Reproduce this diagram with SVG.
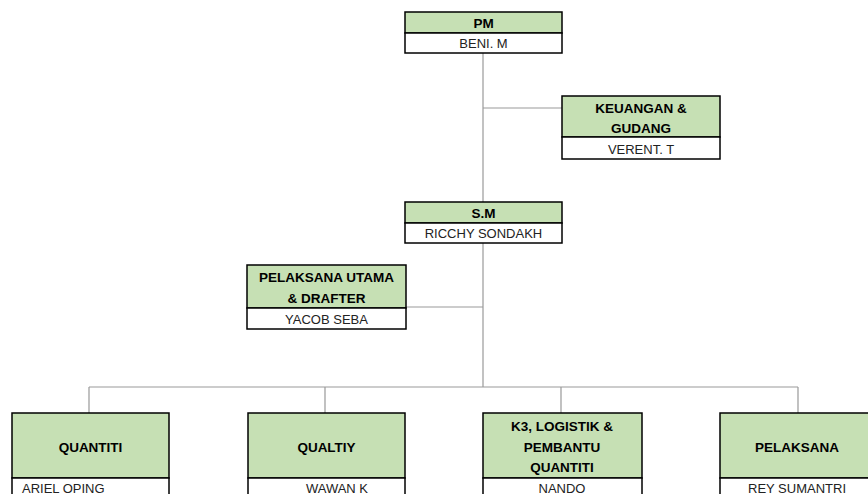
<svg xmlns="http://www.w3.org/2000/svg" width="868" height="494" viewBox="0 0 868 494">
<style>
.hd{fill:#c6e0b4;stroke:#000;stroke-width:1.5}
.nm{fill:#fff;stroke:#000;stroke-width:1.5}
.t{font-family:"Liberation Sans",Arial,sans-serif;font-size:13.5px;font-weight:bold;fill:#000;text-anchor:middle}
.n{font-family:"Liberation Sans",Arial,sans-serif;font-size:13px;fill:#222;text-anchor:middle}
.c{stroke:#999;stroke-width:1.2;fill:none}
</style>
<rect width="868" height="494" fill="#fff"/>
<g id="connectors">
<path class="c" d="M483 53V387"/>
<path class="c" d="M483 108H562"/>
<path class="c" d="M406 307H483"/>
<path class="c" d="M89 387H798"/>
<path class="c" d="M89 387V413M325 387V413M561 387V413M798 387V413"/>
</g>
<g id="pm">
<rect class="hd" x="405" y="12" width="157" height="21"/>
<rect class="nm" x="405" y="33" width="157" height="20"/>
<text class="t" x="483.5" y="27.5">PM</text>
<text class="n" x="483.5" y="48">BENI. M</text>
</g>
<g id="keuangan">
<rect class="hd" x="562" y="96" width="158" height="41"/>
<rect class="nm" x="562" y="137" width="158" height="22"/>
<text class="t" x="641" y="113">KEUANGAN &amp;</text>
<text class="t" x="641" y="133">GUDANG</text>
<text class="n" x="641" y="153.5">VERENT. T</text>
</g>
<g id="sm">
<rect class="hd" x="405" y="202" width="157" height="21"/>
<rect class="nm" x="405" y="223" width="157" height="20"/>
<text class="t" x="483.5" y="217.5">S.M</text>
<text class="n" x="483.5" y="238">RICCHY SONDAKH</text>
</g>
<g id="pelaksana-utama">
<rect class="hd" x="247" y="265" width="159" height="43"/>
<rect class="nm" x="247" y="308" width="159" height="21"/>
<text class="t" x="326.5" y="282">PELAKSANA UTAMA</text>
<text class="t" x="326.5" y="303">&amp; DRAFTER</text>
<text class="n" x="326.5" y="323.5">YACOB SEBA</text>
</g>
<g id="quantiti">
<rect class="hd" x="12" y="413" width="157" height="65"/>
<rect class="nm" x="12" y="478" width="157" height="22"/>
<text class="t" x="90.5" y="452">QUANTITI</text>
<text class="n" x="22" y="492.5" style="text-anchor:start">ARIEL OPING</text>
</g>
<g id="qualtiy">
<rect class="hd" x="248" y="413" width="157" height="65"/>
<rect class="nm" x="248" y="478" width="157" height="22"/>
<text class="t" x="326.5" y="452">QUALTIY</text>
<text class="n" x="337" y="492.5">WAWAN K</text>
</g>
<g id="k3">
<rect class="hd" x="483" y="413" width="159" height="65"/>
<rect class="nm" x="483" y="478" width="159" height="22"/>
<text class="t" x="562" y="431">K3, LOGISTIK &amp;</text>
<text class="t" x="562" y="452">PEMBANTU</text>
<text class="t" x="562" y="472">QUANTITI</text>
<text class="n" x="562" y="492.5">NANDO</text>
</g>
<g id="pelaksana">
<rect class="hd" x="720" y="413" width="157" height="65"/>
<rect class="nm" x="720" y="478" width="157" height="22"/>
<text class="t" x="797" y="452">PELAKSANA</text>
<text class="n" x="797" y="492.5">REY SUMANTRI</text>
</g>
</svg>
